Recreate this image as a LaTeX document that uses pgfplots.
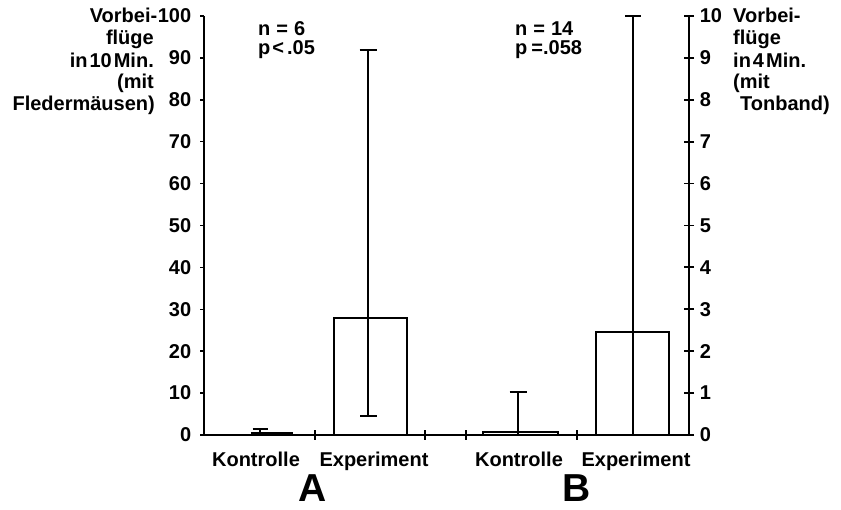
\documentclass[border=0pt]{standalone}
\usepackage{fontspec}
\setmainfont{Liberation Sans}
\usepackage{pgfplots}
\pgfplotsset{compat=1.18}

% Means and error ranges
% A: flights in 10 min with bats (left scale 0--100)
% B: flights in 4 min with tape recording (right scale 0--10)

\pgfplotsset{
  errbar/.style={
    draw=none, mark=none, forget plot,
    error bars/.cd, y dir=both, y explicit,
    error bar style={draw=black, line width=2pt},
    error mark options={draw=black, line width=2pt, rotate=90, mark size=#1},
  },
}

\begin{document}
\fontsize{20}{22}\selectfont\bfseries
\begin{tikzpicture}[x=1pt,y=1pt]
\useasboundingbox (0,0) rectangle (841,509);

% ---------- left scale, group A ----------
\begin{axis}[
  at={(204pt,74pt)}, anchor=south west, scale only axis,
  width=485pt, height=419pt,
  xmin=204, xmax=689, ymin=0, ymax=100,
  axis lines=left,
  axis line style={line width=2.2pt,-},
  xtick=\empty,
  ytick={0,10,...,100},
  tick align=outside,
  major tick length=4pt,
  every tick/.style={black, line width=1.5pt},
  yticklabel style={font=\fontsize{20}{22}\selectfont\bfseries, xshift=-2pt},
  /pgf/number format/assume math mode=true,
  clip=false,
]
  % bars
  \addplot[ybar, bar width=40, draw=black, line width=2pt, fill=none]
    coordinates {(272,0.4)};
  \addplot[ybar, bar width=73, draw=black, line width=2pt, fill=none]
    coordinates {(370,28)};
  % error bars
  \addplot[errbar=7.5pt] coordinates {(260,0) += (0,1.4) -= (0,0)};
  \addplot[errbar=8.5pt] coordinates {(368,28) += (0,64) -= (0,23.5)};
\end{axis}

% ---------- right scale, group B ----------
\begin{axis}[
  at={(204pt,74pt)}, anchor=south west, scale only axis,
  width=485pt, height=419pt,
  xmin=204, xmax=689, ymin=0, ymax=10,
  axis y line=right, axis x line=bottom,
  axis line style={line width=2pt,-},
  xtick={315,425,466,577},
  xticklabels={},
  ytick={0,1,...,10},
  tick align=center,
  major tick length=10pt,
  every tick/.style={black, line width=1.8pt},
  yticklabel style={font=\fontsize{20}{22}\selectfont\bfseries, xshift=-1pt},
  /pgf/number format/assume math mode=true,
  clip=false,
]
  % bars
  \addplot[ybar, bar width=75, draw=black, line width=2pt, fill=none]
    coordinates {(520,0.06)};
  \addplot[ybar, bar width=73, draw=black, line width=2pt, fill=none]
    coordinates {(632.5,2.46)};
  % error bars
  \addplot[errbar=8.5pt] coordinates {(518,0.06) += (0,0.97) -= (0,0.06)};
  \addplot[errbar=8pt] coordinates {(633,2.46) += (0,7.54) -= (0,2.46)};
\end{axis}

% ---------- texts ----------
\begin{scope}[every node/.style={inner sep=0pt}]
  % left scale title
  \node[anchor=base east] at (157.5,486) {Vorbei-};
  \node[anchor=base east] at (154,464) {flüge};
  \node[anchor=base east] at (154,441.5) {in\hspace{2pt}10\hspace{2pt}Min.};
  \node[anchor=base east] at (154,420) {(mit};
  \node[anchor=base east] at (155,398.5) {Fledermäusen)};
  % right scale title
  \node[anchor=base west] at (733,486) {Vorbei-};
  \node[anchor=base west] at (733,464) {flüge};
  \node[anchor=base west] at (733,441.5) {in\hspace{2pt}4\hspace{2pt}Min.};
  \node[anchor=base west] at (733,420) {(mit};
  \node[anchor=base west] at (740,398.5) {Tonband)};
  % statistics
  \node[anchor=base west] at (258,473) {n\hspace{6pt}=\hspace{6pt}6};
  \node[anchor=base west] at (258,454) {p\hspace{2pt}<\hspace{3pt}.05};
  \node[anchor=base west] at (515,473) {n\hspace{6pt}=\hspace{6pt}14};
  \node[anchor=base west] at (515,454) {p\hspace{4pt}=.058};
  % category labels
  \node[anchor=base] at (256,42) {Kontrolle};
  \node[anchor=base] at (374,42) {Experiment};
  \node[anchor=base] at (519,42) {Kontrolle};
  \node[anchor=base] at (636,42) {Experiment};
  % group labels
  \node[anchor=base, text depth=0pt, font=\fontsize{39}{40}\selectfont\bfseries] at (313,8) {A};
  \node[anchor=base, text depth=0pt, font=\fontsize{39}{40}\selectfont\bfseries] at (577,8) {B};
\end{scope}
\end{tikzpicture}
\end{document}
